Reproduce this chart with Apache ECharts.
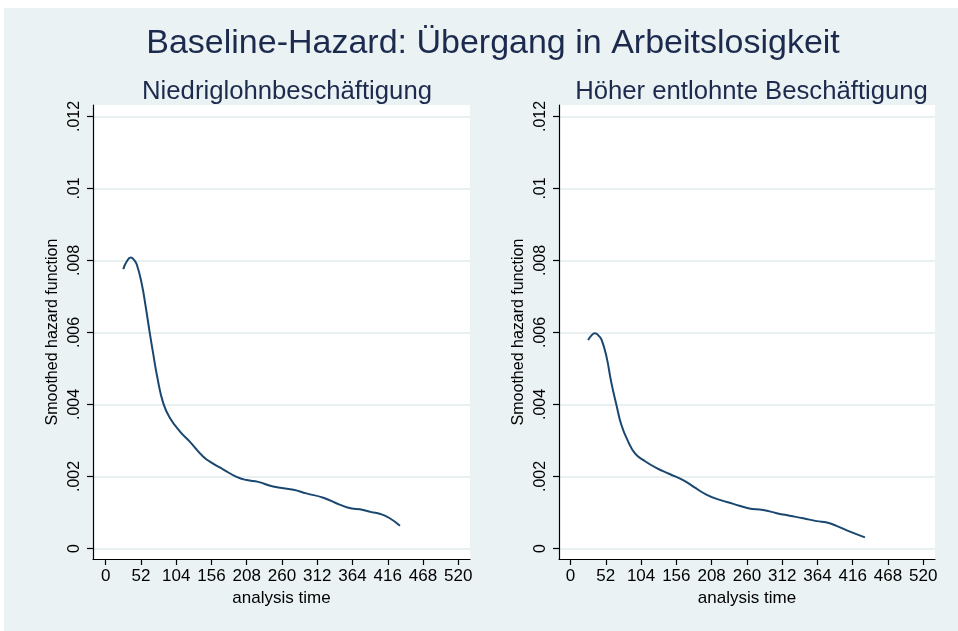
<!DOCTYPE html>
<html>
<head>
<meta charset="utf-8">
<title>Baseline-Hazard</title>
<script src="https://cdn.jsdelivr.net/npm/echarts@6/dist/echarts.min.js"></script>
<style>
  html, body { margin: 0; padding: 0; background: #ffffff; }
  #chart { width: 958px; height: 631px; }
</style>
</head>
<body>
<div id="chart"></div>
<script>
// Smoothed baseline hazard, low-wage employment
const lowTime = [26, 31, 37, 42, 46, 53, 59, 65, 70, 76, 85, 95, 110, 124, 144, 159, 173, 193, 208, 225, 247, 277, 296, 321, 346, 363, 375, 392, 405, 419, 434];
const lowHazard = [0.00776, 0.00797, 0.00808, 0.00801, 0.00788, 0.00737, 0.00672, 0.00599, 0.00542, 0.00477, 0.00403, 0.00362, 0.00324, 0.00297, 0.00255, 0.00235, 0.00220, 0.00199, 0.00190, 0.00185, 0.00172, 0.00163, 0.00153, 0.00141, 0.00121, 0.00111, 0.00109, 0.00101, 0.00096, 0.00084, 0.00063];

// Smoothed baseline hazard, higher-paid employment
const highTime = [26, 30, 36, 42, 46, 53, 60, 68, 75, 85, 95, 107, 127, 146, 166, 181, 201, 220, 240, 262, 284, 304, 323, 343, 363, 378, 392, 412, 434];
const highHazard = [0.00579, 0.00590, 0.00598, 0.00590, 0.00579, 0.00533, 0.00462, 0.00396, 0.00343, 0.00297, 0.00264, 0.00246, 0.00223, 0.00207, 0.00190, 0.00172, 0.00149, 0.00135, 0.00124, 0.00112, 0.00107, 0.00098, 0.00091, 0.00084, 0.00076, 0.00072, 0.00063, 0.00047, 0.00031];

// Tick positions and their labels
const xTicks = [0, 52, 104, 156, 208, 260, 312, 364, 416, 468, 520];
const yTicks = [0, 0.002, 0.004, 0.006, 0.008, 0.01, 0.012];
const yTickLabels = ['0', '.002', '.004', '.006', '.008', '.01', '.012'];

const mainTitle = 'Baseline-Hazard: Übergang in Arbeitslosigkeit';
const panelTitles = ['Niedriglohnbeschäftigung', 'Höher entlohnte Beschäftigung'];
const xName = 'analysis time';
const yName = 'Smoothed hazard function';

const FONT = '"Liberation Sans", Arial, sans-serif';
const TITLE_COLOR = '#1c2a4e';
const LINE_COLOR = '#1a476f';
const GRID_COLOR = '#e8f0f2';
const BG_COLOR = '#eaf2f3';

function pairs(xs, ys) {
  return xs.map((x, i) => [x, ys[i]]);
}

function yLabel(v) {
  for (let i = 0; i < yTicks.length; i++) {
    if (Math.abs(yTicks[i] - v) < 1e-9) return yTickLabels[i];
  }
  return '';
}

const grids = [
  { left: 93, top: 105, width: 377, height: 454 },
  { left: 559, top: 105, width: 376, height: 454 }
];
const xRanges = [[-18.7, 537.3], [-17.0, 537.3]];

function makeX(i) {
  return {
    type: 'value', gridIndex: i,
    min: xRanges[i][0], max: xRanges[i][1],
    name: xName, nameLocation: 'middle', nameGap: 25,
    nameTextStyle: { fontFamily: FONT, fontSize: 17, color: '#000' },
    axisLine: { show: true, onZero: false, lineStyle: { color: '#000', width: 1.2 } },
    axisTick: { show: true, length: 6, customValues: xTicks, lineStyle: { color: '#000', width: 1.2 } },
    axisLabel: { customValues: xTicks, margin: 9, fontFamily: FONT, fontSize: 17, color: '#000',
                 showMinLabel: true, showMaxLabel: true },
    splitLine: { show: false }
  };
}

function makeY(i) {
  return {
    type: 'value', gridIndex: i,
    min: -0.000292, max: 0.012319,
    name: yName, nameLocation: 'middle', nameGap: 32, nameRotate: 90,
    nameTextStyle: { fontFamily: FONT, fontSize: 16, color: '#000' },
    axisLine: { show: true, onZero: false, lineStyle: { color: '#000', width: 1.2 } },
    axisTick: { show: true, length: 6, customValues: yTicks, lineStyle: { color: '#000', width: 1.2 } },
    axisLabel: { customValues: yTicks, rotate: 90, margin: 10, fontFamily: FONT, fontSize: 16, color: '#000',
                 formatter: yLabel },
    splitLine: { show: true, lineStyle: { color: GRID_COLOR, width: 2 } }
  };
}

const chart = echarts.init(document.getElementById('chart'), null, { renderer: 'canvas' });

chart.setOption({
  backgroundColor: '#ffffff',
  animation: false,
  graphic: [
    { type: 'rect', z: -10, silent: true, shape: { x: 4, y: 8, width: 954, height: 623 }, style: { fill: BG_COLOR } },
    { type: 'rect', z: -5, silent: true, shape: { x: grids[0].left, y: grids[0].top, width: grids[0].width, height: grids[0].height }, style: { fill: '#ffffff' } },
    { type: 'rect', z: -5, silent: true, shape: { x: grids[1].left, y: grids[1].top, width: grids[1].width, height: grids[1].height }, style: { fill: '#ffffff' } }
  ],
  title: [
    { text: mainTitle, left: 488, top: 22, textAlign: 'center',
      textStyle: { fontFamily: FONT, fontSize: 34, fontWeight: 'normal', color: TITLE_COLOR } },
    { text: panelTitles[0], left: 282, top: 74, textAlign: 'center',
      textStyle: { fontFamily: FONT, fontSize: 25.7, fontWeight: 'normal', color: TITLE_COLOR } },
    { text: panelTitles[1], left: 746.5, top: 74, textAlign: 'center',
      textStyle: { fontFamily: FONT, fontSize: 25.7, fontWeight: 'normal', color: TITLE_COLOR } }
  ],
  grid: grids,
  xAxis: [makeX(0), makeX(1)],
  yAxis: [makeY(0), makeY(1)],
  series: [
    { type: 'line', xAxisIndex: 0, yAxisIndex: 0, data: pairs(lowTime, lowHazard),
      showSymbol: false, smooth: 0.5, lineStyle: { color: LINE_COLOR, width: 2 } },
    { type: 'line', xAxisIndex: 1, yAxisIndex: 1, data: pairs(highTime, highHazard),
      showSymbol: false, smooth: 0.5, lineStyle: { color: LINE_COLOR, width: 2 } }
  ]
});
</script>
</body>
</html>
